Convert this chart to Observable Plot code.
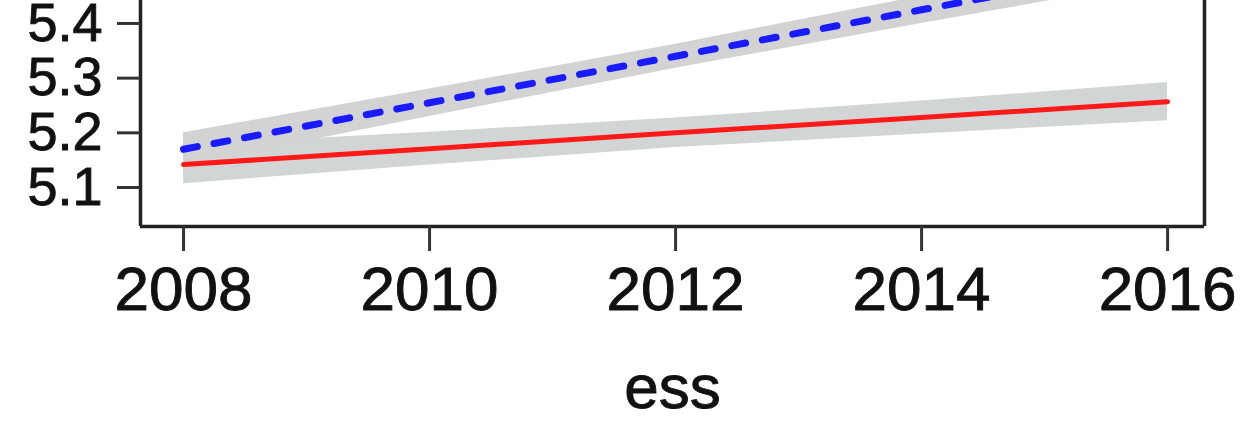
<!DOCTYPE html>
<html>
<head>
<meta charset="utf-8">
<script src="https://cdn.jsdelivr.net/npm/d3@7"></script>
<script src="https://cdn.jsdelivr.net/npm/@observablehq/plot@0.6"></script>
<style>
  html, body { margin: 0; padding: 0; background: #fff; }
  #chart svg { display: block; }
  #chart svg text { stroke: #111; stroke-width: 0.9px; }
</style>
</head>
<body>
<div id="chart"></div>
<script>
// Data
const years = [2008, 2010, 2012, 2014, 2016];
const blueFit = [5.170, 5.255, 5.340, 5.425, 5.510];
const blueLo  = [5.140, 5.230, 5.318, 5.400, 5.480];
const blueHi  = [5.200, 5.280, 5.362, 5.450, 5.540];
const redFit  = [5.142, 5.171, 5.200, 5.228, 5.257];
const redLo   = [5.107, 5.141, 5.173, 5.198, 5.222];
const redHi   = [5.177, 5.201, 5.227, 5.258, 5.292];
const xTicks = [2008, 2010, 2012, 2014, 2016];
const yTicks = [5.1, 5.2, 5.3, 5.4];
const xDomain = [2007.65, 2016.30];
const yDomain = [5.0287, 5.442];

const blue = years.map((x, i) => ({x, y: blueFit[i], lo: blueLo[i], hi: blueHi[i]}));
const red  = years.map((x, i) => ({x, y: redFit[i], lo: redLo[i], hi: redHi[i]}));

const font = "Liberation Sans, Helvetica, Arial, sans-serif";

const chart = Plot.plot({
  width: 1241,
  height: 425,
  marginLeft: 140,
  marginRight: 37,
  marginTop: 0,
  marginBottom: 199,
  style: {fontFamily: font, color: "#111", background: "#fff"},
  x: {domain: xDomain},
  y: {domain: yDomain},
  marks: [
    Plot.areaY(red, {x: "x", y1: "lo", y2: "hi", fill: "#d2d5d6", clip: true}),
    Plot.areaY(blue, {x: "x", y1: "lo", y2: "hi", fill: "#d3d3d3", clip: true}),
    Plot.lineY(red, {x: "x", y: "y", stroke: "#ff1a1a", strokeWidth: 5, clip: true}),
    Plot.lineY(blue, {x: "x", y: "y", stroke: "#1a1aff", strokeWidth: 7, strokeDasharray: "14,17", clip: true}),
    Plot.ruleX([xDomain[0], xDomain[1]], {stroke: "#222", strokeWidth: 3.5}),
    Plot.ruleY([yDomain[0]], {stroke: "#222", strokeWidth: 3.5}),
    Plot.axisY({ticks: yTicks, tickSize: 23, tickPadding: 15, fontSize: 54, strokeWidth: 3, stroke: "#333", tickFormat: d => d.toFixed(1), label: null}),
    Plot.axisX({ticks: xTicks, tickSize: 25, tickPadding: 14, fontSize: 62, strokeWidth: 3, stroke: "#333", tickFormat: d3.format("d"), label: "ess", labelAnchor: "center", labelOffset: 181, labelArrow: "none"})
  ]
});
document.getElementById("chart").appendChild(chart);
</script>
</body>
</html>
